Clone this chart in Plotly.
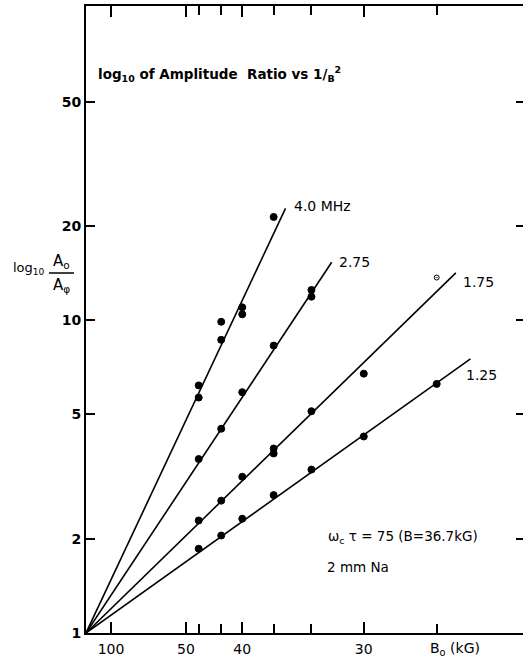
import math
import plotly.graph_objects as go

# ---- data ----
B_major = [100, 50, 40, 30]                 # labelled ticks, kG
B_major_labels = ["100", "50", "40", "30"]
B_minor = [47.1, 43.0, 36.5, 33.3, 26.7]    # unlabelled ticks at the data fields, kG

y_ticks = [1, 2, 5, 10, 20, 50]
y_tick_labels = ["1", "2", "5", "10", "20", "50"]

freq_labels = ["4.0 MHz", "2.75", "1.75", "1.25"]

B_40 = [47.1, 47.1, 43.0, 43.0, 40.0, 40.0, 36.5]
A_40 = [5.66, 6.19, 8.66, 9.89, 10.45, 11.0, 21.4]

B_275 = [47.1, 43.0, 40.0, 36.5, 33.3, 33.3]
A_275 = [3.60, 4.50, 5.89, 8.30, 11.9, 12.5]

B_175 = [47.1, 43.0, 40.0, 36.5, 36.5, 33.3, 30.0, 26.7]
A_175 = [2.29, 2.65, 3.16, 3.89, 3.75, 5.12, 6.75, 13.7]

B_125 = [47.1, 43.0, 40.0, 36.5, 33.3, 30.0, 26.7]
A_125 = [1.86, 2.05, 2.32, 2.76, 3.33, 4.25, 6.26]

# fitted straight lines start at 1/B^2 = 0, ratio 1 and end at:
line_end_B = [35.4, 31.9, 26.0, 25.5]
line_end_A = [22.8, 15.33, 14.18, 7.53]


def inv_b2(b):
    # x coordinate: 1/B^2 in units of 1e-4 kG^-2
    return 1e4 / (b * b)


W, H = 523, 660
L, R, T, Bm = 86, 0, 6, 27
PW, PH = W - L - R, H - T - Bm


def px(x):
    return (x - L) / PW


def py(y):
    return (H - Bm - y) / PH


FONT = "DejaVu Sans"
fig = go.Figure()

series = [(B_40, A_40), (B_275, A_275), (B_175, A_175), (B_125, A_125)]

for i, (bs, As) in enumerate(series):
    fig.add_trace(go.Scatter(
        x=[0, inv_b2(line_end_B[i])], y=[1, line_end_A[i]],
        mode="lines", line=dict(color="black", width=1.6),
        showlegend=False, hoverinfo="skip"))
    symbols = ["circle"] * len(bs)
    sizes = [7] * len(bs)
    if i == 2:
        symbols[-1] = "circle-open-dot"
        sizes[-1] = 5
    fig.add_trace(go.Scatter(
        x=[inv_b2(b) for b in bs], y=As, mode="markers",
        marker=dict(color="black", size=sizes, symbol=symbols, opacity=1,
                    line=dict(color="black", width=1)),
        name=freq_labels[i], showlegend=False))

x_max = (W - R - L) / 25.0  # 25 px per 1e-4 kG^-2

fig.update_layout(
    width=W, height=H,
    margin=dict(l=L, r=R, t=T, b=Bm),
    paper_bgcolor="white", plot_bgcolor="white",
    font=dict(family=FONT, color="black"),
    xaxis=dict(
        range=[0, x_max],
        tickvals=[inv_b2(b) for b in B_major], ticktext=B_major_labels,
        tickangle=0, ticklabelstandoff=2,
        ticks="inside", ticklen=11, tickwidth=1.5, tickcolor="black",
        minor=dict(tickvals=[inv_b2(b) for b in B_minor], ticks="inside",
                   ticklen=9, tickwidth=1.5, tickcolor="black", showgrid=False),
        showline=True, linecolor="black", linewidth=2, mirror="ticks",
        showgrid=False, zeroline=False,
        tickfont=dict(family=FONT, size=14, color="black"),
    ),
    yaxis=dict(
        type="log", range=[0, 2.005],
        tickvals=y_ticks, ticktext=y_tick_labels,
        ticks="inside", ticklen=9, tickwidth=1.5, tickcolor="black",
        showline=True, linecolor="black", linewidth=2,
        showgrid=False, zeroline=False,
        tickfont=dict(family=FONT, size=14, color="black", weight="bold"),
    ),
    yaxis2=dict(
        type="log", range=[0, 2.005], overlaying="y", side="right",
        tickvals=y_ticks[1:], ticks="inside", ticklen=7, tickwidth=1.5,
        tickcolor="black", showticklabels=False, showline=False,
        showgrid=False, zeroline=False,
    ),
)
fig.add_trace(go.Scatter(x=[None], y=[None], yaxis="y2", showlegend=False,
                         hoverinfo="skip"))

ann = []
shifts = [(6, 2), (5, 0), (5, -9), (-6, -16)]
for i in range(4):
    ann.append(dict(x=inv_b2(line_end_B[i]), y=math.log10(line_end_A[i]),
                    xref="x", yref="y", text=freq_labels[i], showarrow=False,
                    xanchor="left", yanchor="middle",
                    xshift=shifts[i][0], yshift=shifts[i][1],
                    font=dict(family=FONT, size=14, color="black")))

ann += [
    dict(x=px(96), y=py(74), xref="paper", yref="paper", xanchor="left", yanchor="middle",
         text="log<sub>10</sub> of Amplitude  Ratio vs 1/<sub>B</sub><sup>2</sup>",
         showarrow=False, font=dict(family=FONT, size=13.5, color="black", weight="bold")),
    dict(x=px(11), y=py(268), xref="paper", yref="paper", xanchor="left", yanchor="middle",
         text="log<sub>10</sub>", showarrow=False,
         font=dict(family=FONT, size=13, color="black")),
    dict(x=px(61), y=py(261), xref="paper", yref="paper", xanchor="center", yanchor="middle",
         text="A<sub>o</sub>", showarrow=False,
         font=dict(family=FONT, size=15, color="black")),
    dict(x=px(61), y=py(285), xref="paper", yref="paper", xanchor="center", yanchor="middle",
         text="A<sub>φ</sub>", showarrow=False,
         font=dict(family=FONT, size=15, color="black")),
    dict(x=px(326), y=py(537), xref="paper", yref="paper", xanchor="left", yanchor="middle",
         text="ω<sub>c</sub> τ = 75 (B=36.7kG)", showarrow=False,
         font=dict(family=FONT, size=13.5, color="black")),
    dict(x=px(325), y=py(567), xref="paper", yref="paper", xanchor="left", yanchor="middle",
         text="2 mm Na", showarrow=False,
         font=dict(family=FONT, size=13.5, color="black")),
    dict(x=px(428), y=py(649), xref="paper", yref="paper", xanchor="left", yanchor="middle",
         text="B<sub>o</sub> (kG)", showarrow=False,
         font=dict(family=FONT, size=14, color="black")),
]
fig.update_layout(annotations=ann)
fig.add_shape(type="line", xref="paper", yref="paper",
              x0=px(49), x1=px(74), y0=py(273), y1=py(273),
              line=dict(color="black", width=1.5))

fig.write_html("out.html", config={"displayModeBar": False},
               post_script="document.body.style.margin='0';document.body.style.overflow='hidden';")
